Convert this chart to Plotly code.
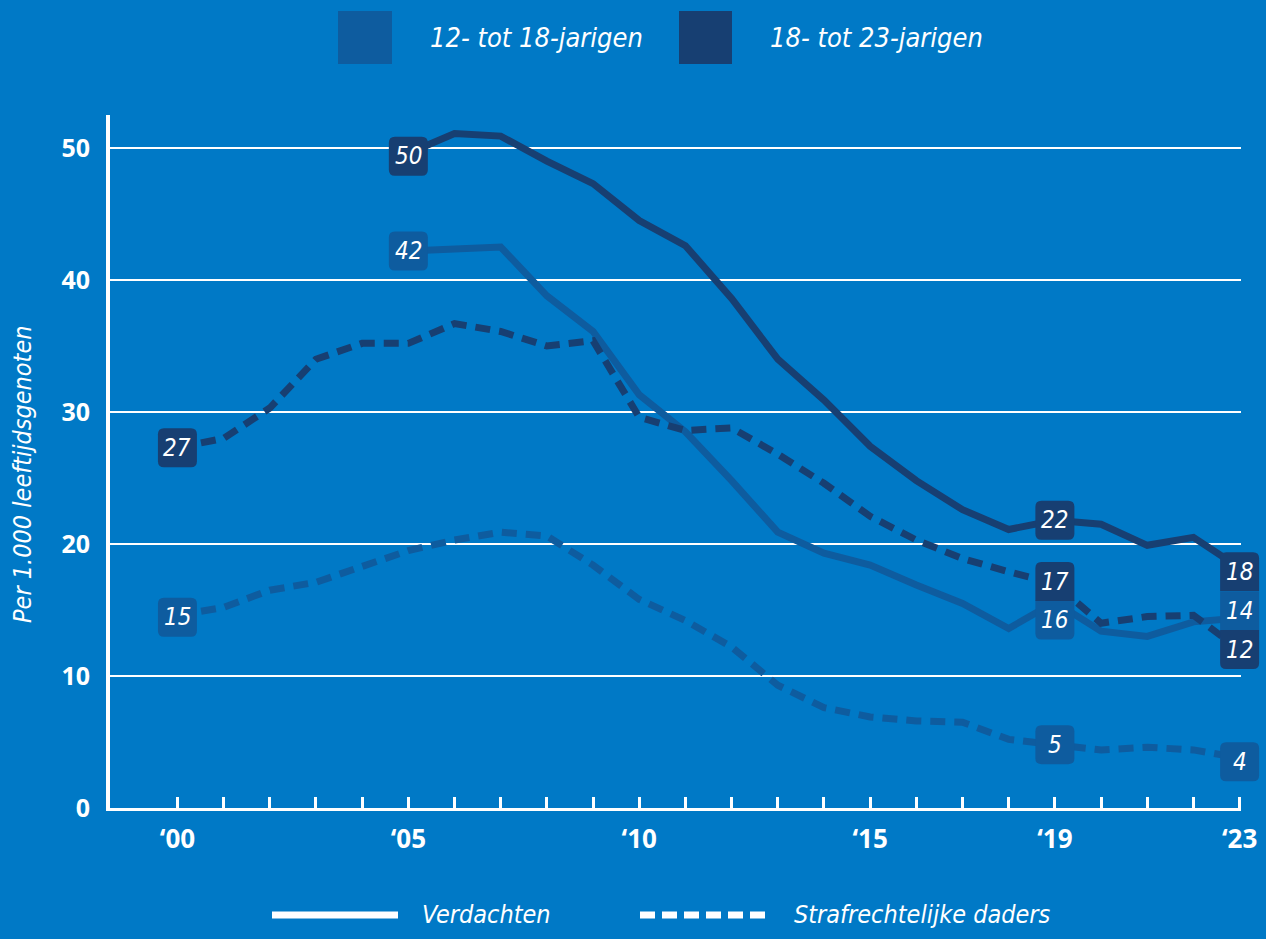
import plotly.graph_objects as go

# ---------------- data ----------------
years = list(range(2000, 2024))

verdachten_12_18 = [None, None, None, None, None,
                    42.2, 42.3, 42.5, 38.8, 36.1, 31.3, 28.5, 24.8, 20.9, 19.3,
                    18.4, 16.9, 15.5, 13.6, 15.6, 13.4, 13.0, 14.1, 14.4]
verdachten_18_23 = [None, None, None, None, None,
                    49.6, 51.1, 50.9, 49.0, 47.3, 44.5, 42.6, 38.6, 34.0, 30.9,
                    27.4, 24.8, 22.6, 21.1, 21.8, 21.5, 19.9, 20.5, 18.2]
daders_12_18 = [14.6, 15.2, 16.5, 17.1, 18.3, 19.5, 20.3, 20.9, 20.6, 18.4, 15.8,
                14.2, 12.2, 9.3, 7.6, 6.9, 6.6, 6.5, 5.2, 4.8, 4.4, 4.6, 4.4, 3.8]
daders_18_23 = [27.3, 28.0, 30.3, 34.0, 35.2, 35.2, 36.7, 36.1, 35.0, 35.4, 29.6,
                28.6, 28.8, 26.8, 24.6, 22.1, 20.3, 18.9, 17.9, 17.0, 14.0, 14.5, 14.6, 12.0]

x_label_years = [2000, 2005, 2010, 2015, 2019, 2023]
y_ticks = [0, 10, 20, 30, 40, 50]

group_names = ["12- tot 18-jarigen", "18- tot 23-jarigen"]
type_names = ["Verdachten", "Strafrechtelijke daders"]
y_title = "Per 1.000 leeftijdsgenoten"

# ---------------- style ----------------
BG = "#0079C6"
C12 = "#0E5C9F"
C18 = "#173F72"
WHITE = "#FFFFFF"
FONT = "Liberation Sans Narrow, DejaVu Sans Condensed, Open Sans, sans-serif"
TICKFONT = "Open Sans, Liberation Sans, sans-serif"

W, H = 1266, 939
L, R, T, B = 110, 25, 115, 131
PW, PH = W - L - R, H - T - B
X_RANGE = [1998.54, 2023.03]
Y_RANGE = [0, 52.5]


def px(x):
    return (x - L) / PW


def py(y):
    return (H - B - y) / PH


def xdom(v):
    return (v - X_RANGE[0]) / (X_RANGE[1] - X_RANGE[0])


def ydom(v):
    return (v - Y_RANGE[0]) / (Y_RANGE[1] - Y_RANGE[0])


series = {
    "v12": (verdachten_12_18, C12, "solid"),
    "d12": (daders_12_18, C12, "15px,9px"),
    "v18": (verdachten_18_23, C18, "solid"),
    "d18": (daders_18_23, C18, "15px,9px"),
}

fig = go.Figure()
for key in ["v12", "d12", "v18", "d18"]:
    vals, col, dash = series[key]
    fig.add_trace(go.Scatter(
        x=years, y=vals, mode="lines",
        line=dict(color=col, width=7, dash=dash),
        hoverinfo="skip", showlegend=False))

# value labels: (series, year, text, pixel shift of box centre, round top, round bottom)
labels = [
    ("v18", 2005, "50", -3, True, True),
    ("v12", 2005, "42", 0, True, True),
    ("d18", 2000, "27", 0, True, True),
    ("d12", 2000, "15", -2, True, True),
    ("v18", 2019, "22", 0, True, True),
    ("v12", 2019, "16", -18, False, True),
    ("d18", 2019, "17", 2, True, False),
    ("d12", 2019, "5", 0, True, True),
    ("v18", 2023, "18", -4, True, False),
    ("v12", 2023, "14", 7, False, False),
    ("d18", 2023, "12", 0, False, True),
    ("d12", 2023, "4", -4, True, True),
]

BW, BH, RAD = 39, 39, 6


def rrect(dy, top, bottom):
    x0, x1 = -BW / 2, BW / 2
    y0, y1 = dy - BH / 2, dy + BH / 2
    rt = RAD if top else 0
    rb = RAD if bottom else 0
    return (f"M {x0 + rb},{y0} L {x1 - rb},{y0} Q {x1},{y0} {x1},{y0 + rb} "
            f"L {x1},{y1 - rt} Q {x1},{y1} {x1 - rt},{y1} L {x0 + rt},{y1} "
            f"Q {x0},{y1} {x0},{y1 - rt} L {x0},{y0 + rb} Q {x0},{y0} {x0 + rb},{y0} Z")


for key, yr, txt, dy, top, bottom in labels:
    vals, col, _ = series[key]
    v = vals[years.index(yr)]
    fig.add_shape(type="path", xref="x domain", yref="y domain",
                  xsizemode="pixel", ysizemode="pixel",
                  xanchor=xdom(yr), yanchor=ydom(v), path=rrect(dy, top, bottom),
                  fillcolor=col, line=dict(width=0), layer="above")
    fig.add_annotation(x=yr, y=v, yshift=dy, text=f"<i>{txt}</i>", showarrow=False,
                       font=dict(family=FONT, size=24, color=WHITE),
                       xanchor="center", yanchor="middle")

# ---------------- legends ----------------
for (x0, x1), col, name in [((338, 392), C12, group_names[0]), ((679, 732), C18, group_names[1])]:
    fig.add_shape(type="rect", xref="paper", yref="paper",
                  x0=px(x0), x1=px(x1), y0=py(64), y1=py(11),
                  fillcolor=col, line=dict(width=0))
    fig.add_annotation(xref="paper", yref="paper", x=px(x1 + 36), y=py(38),
                       text=f"<i>{name}</i>", showarrow=False, xanchor="left", yanchor="middle",
                       font=dict(family=FONT, size=27, color=WHITE))

fig.add_shape(type="line", xref="paper", yref="paper", x0=px(272), x1=px(398), y0=py(915), y1=py(915),
              line=dict(color=WHITE, width=7))
fig.add_annotation(xref="paper", yref="paper", x=px(420), y=py(914), text=f"<i>{type_names[0]}</i>",
                   showarrow=False, xanchor="left", yanchor="middle",
                   font=dict(family=FONT, size=25, color=WHITE))
fig.add_shape(type="line", xref="paper", yref="paper", x0=px(640), x1=px(766), y0=py(915), y1=py(915),
              line=dict(color=WHITE, width=7, dash="15px,7px"))
fig.add_annotation(xref="paper", yref="paper", x=px(792), y=py(914), text=f"<i>{type_names[1]}</i>",
                   showarrow=False, xanchor="left", yanchor="middle",
                   font=dict(family=FONT, size=25, color=WHITE))

fig.add_annotation(xref="paper", yref="paper", x=px(22), y=py(474), text=f"<i>{y_title}</i>",
                   textangle=-90, showarrow=False, xanchor="center", yanchor="middle",
                   font=dict(family=FONT, size=25, color=WHITE))

# ---------------- axes ----------------
fig.update_xaxes(
    range=X_RANGE, showgrid=False, zeroline=False, automargin=False,
    showline=True, linecolor=WHITE, linewidth=3,
    ticks="inside", ticklen=11, tickwidth=3, tickcolor=WHITE,
    tickvals=years,
    ticktext=[("\u2018" + str(y)[2:]) if y in x_label_years else "" for y in years],
    tickfont=dict(family=TICKFONT, size=26, color=WHITE, weight="bold"),
    ticklabelstandoff=6, fixedrange=True)

fig.update_yaxes(
    range=Y_RANGE, showgrid=True, gridcolor=WHITE, gridwidth=1.5, zeroline=False,
    automargin=False,
    showline=True, linecolor=WHITE, linewidth=4, ticks="",
    tickvals=y_ticks, ticktext=[str(v) for v in y_ticks],
    tickfont=dict(family=TICKFONT, size=25, color=WHITE, weight="bold"),
    ticklabelstandoff=11, fixedrange=True)

fig.update_layout(
    width=W, height=H, autosize=False,
    margin=dict(l=L, r=R, t=T, b=B, pad=0, autoexpand=False),
    paper_bgcolor=BG, plot_bgcolor=BG,
    showlegend=False)

fig.write_html("out.html", config={"displayModeBar": False},
               post_script="document.body.style.margin='0';document.body.style.overflow='hidden';")
